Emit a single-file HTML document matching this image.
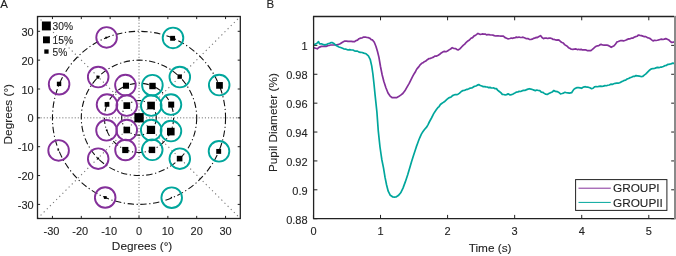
<!DOCTYPE html><html><head><meta charset="utf-8"><style>html,body{margin:0;padding:0;background:#fff;}svg{display:block;font-family:"Liberation Sans",sans-serif;will-change:transform;}text{stroke:#222;stroke-width:0.1px;}</style></head><body>
<svg width="676" height="256" viewBox="0 0 676 256">
<rect width="676" height="256" fill="#fff"/>
<defs><clipPath id="ca"><rect x="37.50" y="16.50" width="202.80" height="202.00"/></clipPath>
<clipPath id="cb"><rect x="313.60" y="16.50" width="361.40" height="202.20"/></clipPath></defs>
<g clip-path="url(#ca)">
<line x1="139.00" y1="16.50" x2="139.00" y2="218.50" stroke="#707070" stroke-width="1" stroke-dasharray="1.1 2.0" fill="none"/>
<line x1="37.50" y1="117.85" x2="240.30" y2="117.85" stroke="#707070" stroke-width="1" stroke-dasharray="1.1 2.0" fill="none"/>
<line x1="37.50" y1="218.50" x2="240.30" y2="16.50" stroke="#777" stroke-width="1.1" stroke-dasharray="1.2 3.2" fill="none"/>
<line x1="37.50" y1="16.50" x2="240.30" y2="218.50" stroke="#777" stroke-width="1.1" stroke-dasharray="1.2 3.2" fill="none"/>
<circle cx="139.00" cy="117.85" r="17.31" stroke="#111" stroke-width="1.1" stroke-dasharray="6.4 2.6 1.2 2.6" fill="none"/>
<circle cx="139.00" cy="117.85" r="34.62" stroke="#111" stroke-width="1.1" stroke-dasharray="6.4 2.6 1.2 2.6" fill="none"/>
<circle cx="139.00" cy="117.85" r="57.70" stroke="#111" stroke-width="1.1" stroke-dasharray="6.4 2.6 1.2 2.6" fill="none"/>
<circle cx="139.00" cy="117.85" r="86.55" stroke="#111" stroke-width="1.1" stroke-dasharray="6.4 2.6 1.2 2.6" fill="none"/>
<circle cx="106.60" cy="37.40" r="10.30" stroke="#84309A" stroke-width="1.9" fill="none"/>
<circle cx="59.10" cy="84.20" r="10.30" stroke="#84309A" stroke-width="1.9" fill="none"/>
<circle cx="98.20" cy="77.05" r="10.30" stroke="#84309A" stroke-width="1.9" fill="none"/>
<circle cx="125.40" cy="85.10" r="10.30" stroke="#84309A" stroke-width="1.9" fill="none"/>
<circle cx="107.02" cy="104.60" r="10.30" stroke="#84309A" stroke-width="1.9" fill="none"/>
<circle cx="126.76" cy="105.61" r="10.30" stroke="#84309A" stroke-width="1.9" fill="none"/>
<circle cx="126.76" cy="130.09" r="10.30" stroke="#84309A" stroke-width="1.9" fill="none"/>
<circle cx="106.50" cy="130.30" r="10.30" stroke="#84309A" stroke-width="1.9" fill="none"/>
<circle cx="125.50" cy="150.00" r="10.30" stroke="#84309A" stroke-width="1.9" fill="none"/>
<circle cx="98.20" cy="158.65" r="10.30" stroke="#84309A" stroke-width="1.9" fill="none"/>
<circle cx="58.60" cy="150.40" r="10.30" stroke="#84309A" stroke-width="1.9" fill="none"/>
<circle cx="105.20" cy="197.50" r="10.30" stroke="#84309A" stroke-width="1.9" fill="none"/>
<circle cx="173.00" cy="37.90" r="10.30" stroke="#00A69C" stroke-width="1.9" fill="none"/>
<circle cx="219.20" cy="85.10" r="10.30" stroke="#00A69C" stroke-width="1.9" fill="none"/>
<circle cx="179.80" cy="77.05" r="10.30" stroke="#00A69C" stroke-width="1.9" fill="none"/>
<circle cx="152.40" cy="85.20" r="10.30" stroke="#00A69C" stroke-width="1.9" fill="none"/>
<circle cx="170.98" cy="104.60" r="10.30" stroke="#00A69C" stroke-width="1.9" fill="none"/>
<circle cx="151.24" cy="105.61" r="10.30" stroke="#00A69C" stroke-width="1.9" fill="none"/>
<circle cx="151.24" cy="130.09" r="10.30" stroke="#00A69C" stroke-width="1.9" fill="none"/>
<circle cx="170.98" cy="131.10" r="10.30" stroke="#00A69C" stroke-width="1.9" fill="none"/>
<circle cx="152.25" cy="149.83" r="10.30" stroke="#00A69C" stroke-width="1.9" fill="none"/>
<circle cx="179.80" cy="158.65" r="10.30" stroke="#00A69C" stroke-width="1.9" fill="none"/>
<circle cx="219.00" cy="151.30" r="10.30" stroke="#00A69C" stroke-width="1.9" fill="none"/>
<circle cx="171.70" cy="197.70" r="10.30" stroke="#00A69C" stroke-width="1.9" fill="none"/>
<rect x="105.30" y="36.70" width="1.80" height="1.80" fill="#000"/>
<rect x="56.85" y="81.70" width="4.40" height="4.40" fill="#000"/>
<rect x="96.40" y="75.70" width="3.00" height="3.00" fill="#000"/>
<rect x="122.95" y="82.65" width="6.10" height="6.10" fill="#000"/>
<rect x="104.65" y="102.05" width="4.70" height="4.70" fill="#000"/>
<rect x="123.45" y="102.25" width="6.70" height="6.70" fill="#000"/>
<rect x="123.50" y="126.70" width="6.60" height="6.60" fill="#000"/>
<rect x="105.90" y="129.40" width="1.60" height="1.60" fill="#000"/>
<rect x="122.20" y="146.90" width="6.20" height="6.20" fill="#000"/>
<rect x="97.10" y="157.50" width="2.00" height="2.00" fill="#000"/>
<rect x="57.50" y="149.10" width="1.60" height="1.60" fill="#000"/>
<rect x="103.90" y="196.10" width="2.80" height="2.80" fill="#000"/>
<rect x="170.15" y="35.85" width="4.90" height="4.90" fill="#000"/>
<rect x="216.15" y="82.05" width="6.70" height="6.70" fill="#000"/>
<rect x="177.50" y="74.40" width="4.40" height="4.40" fill="#000"/>
<rect x="149.30" y="82.80" width="6.40" height="6.40" fill="#000"/>
<rect x="168.20" y="101.60" width="6.00" height="6.00" fill="#000"/>
<rect x="147.30" y="101.70" width="7.60" height="7.60" fill="#000"/>
<rect x="146.90" y="125.80" width="8.20" height="8.20" fill="#000"/>
<rect x="167.00" y="127.80" width="7.60" height="7.60" fill="#000"/>
<rect x="148.80" y="146.70" width="6.40" height="6.40" fill="#000"/>
<rect x="176.80" y="155.80" width="5.60" height="5.60" fill="#000"/>
<rect x="216.25" y="148.95" width="4.90" height="4.90" fill="#000"/>
<rect x="170.75" y="196.85" width="1.30" height="1.30" fill="#000"/>
<rect x="134.4" y="113.1" width="9.3" height="9.3" fill="#000"/>
</g>
<rect x="41.9" y="21.5" width="8.9" height="8.9" fill="#000"/>
<rect x="43.0" y="36.4" width="6.9" height="6.9" fill="#000"/>
<rect x="44.3" y="49.4" width="4.3" height="4.3" fill="#000"/>
<g fill="#222222" font-size="10.2">
<text x="52.6" y="29.8">30%</text>
<text x="52.6" y="44.1">15%</text>
<text x="52.6" y="56.1">5%</text>
</g>
<rect x="37.50" y="16.50" width="202.80" height="202.00" fill="none" stroke="#222222" stroke-width="1.3"/>
<path d="M52.45 218.50v-2.60M52.45 16.50v2.60M37.50 204.40h2.60M240.30 204.40h-2.60M81.30 218.50v-2.60M81.30 16.50v2.60M37.50 175.55h2.60M240.30 175.55h-2.60M110.15 218.50v-2.60M110.15 16.50v2.60M37.50 146.70h2.60M240.30 146.70h-2.60M139.00 218.50v-2.60M139.00 16.50v2.60M37.50 117.85h2.60M240.30 117.85h-2.60M167.85 218.50v-2.60M167.85 16.50v2.60M37.50 89.00h2.60M240.30 89.00h-2.60M196.70 218.50v-2.60M196.70 16.50v2.60M37.50 60.15h2.60M240.30 60.15h-2.60M225.55 218.50v-2.60M225.55 16.50v2.60M37.50 31.30h2.60M240.30 31.30h-2.60" stroke="#222222" stroke-width="1" fill="none"/>
<g fill="#222222" font-size="11">
<text x="51.45" y="234.8" text-anchor="middle">-30</text>
<text x="80.30" y="234.8" text-anchor="middle">-20</text>
<text x="109.15" y="234.8" text-anchor="middle">-10</text>
<text x="139.00" y="234.8" text-anchor="middle">0</text>
<text x="167.85" y="234.8" text-anchor="middle">10</text>
<text x="196.70" y="234.8" text-anchor="middle">20</text>
<text x="225.55" y="234.8" text-anchor="middle">30</text>
<text x="33.7" y="209.00" text-anchor="end">-30</text>
<text x="33.7" y="180.15" text-anchor="end">-20</text>
<text x="33.7" y="151.30" text-anchor="end">-10</text>
<text x="33.7" y="122.45" text-anchor="end">0</text>
<text x="33.7" y="93.60" text-anchor="end">10</text>
<text x="33.7" y="64.75" text-anchor="end">20</text>
<text x="33.7" y="35.90" text-anchor="end">30</text>
</g>
<text x="142.1" y="249.6" font-size="11.8" fill="#222222" text-anchor="middle">Degrees (&#176;)</text>
<text transform="translate(11.7,114.2) rotate(-90)" font-size="11.8" fill="#222222" text-anchor="middle">Degrees (&#176;)</text>
<text x="0.2" y="7.9" font-size="11.5" fill="#222222">A</text>
<path d="M313.45 218.70v-3.80M313.45 16.50v3.80M380.52 218.70v-3.80M380.52 16.50v3.80M447.59 218.70v-3.80M447.59 16.50v3.80M514.66 218.70v-3.80M514.66 16.50v3.80M581.73 218.70v-3.80M581.73 16.50v3.80M648.80 218.70v-3.80M648.80 16.50v3.80M313.60 218.70h3.80M675.00 218.70h-3.80M313.60 189.81h3.80M675.00 189.81h-3.80M313.60 160.93h3.80M675.00 160.93h-3.80M313.60 132.04h3.80M675.00 132.04h-3.80M313.60 103.16h3.80M675.00 103.16h-3.80M313.60 74.27h3.80M675.00 74.27h-3.80M313.60 45.39h3.80M675.00 45.39h-3.80M313.60 16.50h3.80M675.00 16.50h-3.80" stroke="#222222" stroke-width="1" fill="none"/>
<g clip-path="url(#cb)" fill="none" stroke-width="1.7" stroke-linejoin="round" stroke-linecap="round">
<path d="M313.40 47.60 L315.50 48.20 L317.30 48.80 L319.00 47.40 L321.40 46.40 L323.70 46.40 L324.90 46.16 L326.10 46.40 L328.40 45.50 L329.60 45.29 L330.80 45.00 L333.10 45.00 L335.50 45.00 L337.80 44.70 L340.20 43.80 L342.50 42.30 L344.80 41.10 L346.45 41.08 L348.10 41.30 L349.70 41.39 L351.30 41.30 L352.85 41.61 L354.40 41.70 L355.95 40.56 L357.50 40.20 L359.05 38.71 L360.60 38.10 L362.20 37.85 L363.80 37.00 L365.35 37.03 L366.90 37.50 L368.45 37.71 L370.00 38.40 L371.25 39.60 L372.50 39.90 L374.30 42.30 L376.00 46.50 L377.50 51.50 L378.90 57.10 L380.50 66.50 L382.20 75.00 L383.80 81.30 L385.90 87.70 L388.00 93.00 L390.10 96.10 L392.30 97.70 L394.40 97.50 L396.50 97.70 L398.60 96.60 L400.70 95.10 L402.80 93.50 L404.90 90.80 L407.00 87.10 L409.20 83.40 L411.30 79.20 L412.80 76.20 L414.03 73.94 L415.27 72.04 L416.50 69.50 L417.80 67.85 L419.10 66.36 L420.40 64.60 L421.70 63.32 L423.00 62.79 L424.30 61.70 L425.80 61.03 L427.30 59.72 L428.80 58.70 L430.37 58.38 L431.93 57.79 L433.50 57.10 L435.07 56.07 L436.63 56.07 L438.20 55.20 L439.73 54.25 L441.27 52.95 L442.80 52.10 L444.37 51.31 L445.93 51.70 L447.50 51.00 L449.07 49.88 L450.63 49.00 L452.20 47.70 L453.95 48.49 L455.70 48.60 L456.90 49.49 L458.10 50.00 L459.85 48.88 L461.60 47.00 L463.17 45.34 L464.73 44.14 L466.30 42.30 L467.87 40.92 L469.43 40.03 L471.00 38.30 L472.57 37.61 L474.13 35.87 L475.70 35.20 L478.00 33.40 L480.40 34.50 L482.15 33.97 L483.90 34.10 L485.20 34.01 L486.50 34.85 L487.80 34.60 L489.10 34.68 L490.40 34.98 L491.70 35.00 L493.00 35.15 L494.30 35.67 L495.60 36.00 L496.90 35.90 L498.20 35.87 L499.50 36.00 L500.80 36.14 L502.10 36.21 L503.40 36.20 L504.70 37.36 L506.00 37.96 L507.30 38.60 L508.63 38.79 L509.97 38.52 L511.30 38.00 L512.60 38.31 L513.90 37.89 L515.20 37.60 L516.47 37.10 L517.73 37.52 L519.00 37.00 L520.33 37.48 L521.67 37.50 L523.00 37.20 L524.30 37.73 L525.60 38.33 L526.90 38.60 L528.20 38.64 L529.50 39.50 L530.80 39.50 L532.10 39.13 L533.40 38.44 L534.70 38.20 L536.00 37.34 L537.30 37.59 L538.60 36.80 L540.50 35.60 L542.00 37.54 L543.50 38.60 L544.95 38.03 L546.40 38.20 L547.70 38.47 L549.00 38.12 L550.30 38.20 L551.75 38.54 L553.20 39.50 L554.43 39.41 L555.65 39.94 L556.88 40.14 L558.10 39.90 L559.40 40.36 L560.70 41.74 L562.00 42.50 L563.30 43.06 L564.60 44.63 L565.90 45.40 L567.20 46.21 L568.50 47.68 L569.80 48.30 L571.30 49.23 L572.80 49.30 L574.40 49.10 L576.00 48.90 L577.30 49.62 L578.60 49.26 L579.90 49.70 L581.20 49.39 L582.50 49.92 L583.80 49.90 L585.10 49.74 L586.40 50.16 L587.70 50.70 L589.15 50.62 L590.60 50.70 L592.10 49.60 L593.60 48.30 L594.90 47.16 L596.20 46.22 L597.50 45.80 L598.80 45.66 L600.10 44.70 L601.40 44.40 L602.70 45.01 L604.00 45.16 L605.30 45.00 L606.75 45.09 L608.20 45.40 L609.70 46.31 L611.20 47.30 L612.65 46.57 L614.10 45.80 L615.55 43.98 L617.00 41.90 L618.30 41.52 L619.60 41.02 L620.90 40.50 L622.20 40.61 L623.50 40.90 L624.80 40.50 L626.10 39.97 L627.40 39.37 L628.70 38.90 L630.00 38.86 L631.30 38.20 L632.60 38.20 L634.10 37.22 L635.60 36.60 L637.05 36.23 L638.50 35.00 L639.95 35.32 L641.40 35.60 L642.90 36.14 L644.40 36.60 L645.85 36.66 L647.30 37.60 L648.75 38.02 L650.20 38.60 L651.65 39.82 L653.10 40.90 L654.60 40.27 L656.10 40.50 L657.40 40.27 L658.70 39.95 L660.00 39.50 L661.45 39.10 L662.90 39.50 L664.35 39.16 L665.80 38.60 L667.30 39.22 L668.80 39.90 L670.25 41.36 L671.70 42.50 L673.35 42.17 L675.00 42.10" stroke="#84309A"/>
<path d="M313.40 45.00 L314.90 44.30 L316.70 43.50 L318.50 41.70 L319.60 43.80 L321.40 43.80 L323.70 44.70 L324.90 44.89 L326.10 44.70 L328.40 43.50 L329.60 43.31 L330.80 42.70 L332.50 42.70 L334.30 43.80 L336.60 45.80 L339.00 47.00 L341.30 47.80 L343.70 48.80 L346.00 49.20 L348.10 50.00 L349.70 49.57 L351.30 50.00 L352.85 50.00 L354.40 50.80 L355.95 51.11 L357.50 51.10 L359.05 52.12 L360.60 52.30 L362.20 52.48 L363.80 53.10 L366.10 53.80 L368.40 55.80 L370.30 59.70 L371.70 65.90 L372.90 74.00 L374.00 84.00 L375.10 95.20 L376.90 112.00 L378.30 131.10 L380.00 147.00 L381.00 154.00 L381.90 160.00 L383.50 167.80 L385.00 177.20 L386.60 185.00 L388.20 191.20 L390.20 195.20 L391.50 196.06 L392.80 197.00 L394.40 197.08 L396.00 197.00 L398.30 195.60 L400.70 192.80 L403.00 188.10 L405.30 181.90 L407.70 174.80 L410.00 167.00 L411.60 161.60 L413.50 155.50 L414.90 151.20 L416.30 146.90 L417.65 143.20 L419.00 139.50 L420.25 136.70 L421.50 133.90 L423.00 131.58 L424.50 129.50 L426.80 126.90 L428.05 124.54 L429.30 122.00 L431.50 118.00 L433.70 113.60 L435.07 111.45 L436.43 109.56 L437.80 107.70 L439.10 106.55 L440.40 104.47 L441.70 103.50 L443.00 102.60 L444.30 101.78 L445.60 100.60 L446.90 99.43 L448.20 98.35 L449.50 97.60 L451.00 97.01 L452.50 95.63 L454.00 95.00 L455.27 94.52 L456.53 94.54 L457.80 94.40 L459.55 93.13 L461.30 91.50 L462.60 90.67 L463.90 90.41 L465.20 90.10 L466.50 89.45 L467.80 89.40 L469.10 88.60 L470.40 88.08 L471.70 87.99 L473.00 87.20 L474.45 86.30 L475.90 86.00 L477.35 85.15 L478.80 84.60 L480.30 85.44 L481.80 86.00 L483.25 86.65 L484.70 86.60 L486.00 86.89 L487.30 87.02 L488.60 87.60 L489.90 87.39 L491.20 87.89 L492.50 88.00 L493.80 87.92 L495.10 88.68 L496.40 88.60 L497.85 90.35 L499.30 91.50 L500.80 92.67 L502.30 94.40 L503.75 94.50 L505.20 95.00 L506.65 94.68 L508.10 93.80 L510.10 95.00 L511.40 94.59 L512.70 94.21 L514.00 93.40 L515.30 92.76 L516.60 92.07 L517.90 91.90 L519.20 91.38 L520.50 91.50 L521.80 90.90 L523.55 90.39 L525.30 90.30 L526.67 89.63 L528.03 89.16 L529.40 88.70 L530.90 89.09 L532.40 89.55 L533.90 90.10 L535.37 90.61 L536.83 90.06 L538.30 90.50 L539.80 90.65 L541.30 92.10 L542.80 92.30 L544.27 93.38 L545.73 94.20 L547.20 94.50 L548.85 93.54 L550.50 92.70 L552.15 92.01 L553.80 90.50 L555.50 91.43 L557.20 91.60 L558.85 92.45 L560.50 93.80 L562.00 93.52 L563.50 93.10 L565.00 92.30 L566.47 92.75 L567.93 92.92 L569.40 93.20 L571.60 92.70 L573.80 89.40 L575.45 88.31 L577.10 87.60 L578.60 87.69 L580.10 87.82 L581.60 88.30 L583.25 87.11 L584.90 86.70 L586.55 87.03 L588.20 87.20 L589.90 87.76 L591.60 88.70 L593.07 88.25 L594.53 86.82 L596.00 86.50 L597.47 86.73 L598.93 86.41 L600.40 86.10 L601.90 86.31 L603.40 86.12 L604.90 85.60 L606.37 85.76 L607.83 85.27 L609.30 85.00 L610.80 84.16 L612.30 84.42 L613.80 83.80 L615.27 83.30 L616.73 83.22 L618.20 83.20 L619.67 82.68 L621.13 81.89 L622.60 81.20 L624.10 80.39 L625.60 80.13 L627.10 79.00 L628.57 78.50 L630.03 77.66 L631.50 77.20 L632.97 76.44 L634.43 76.46 L635.90 75.60 L637.60 75.83 L639.30 76.10 L640.95 76.55 L642.60 76.50 L644.25 75.07 L645.90 73.90 L648.10 71.60 L649.80 69.93 L651.50 68.80 L652.97 68.53 L654.43 68.49 L655.90 67.90 L657.37 67.37 L658.83 67.70 L660.30 67.20 L661.80 67.08 L663.30 66.48 L664.80 65.70 L666.27 65.52 L667.73 64.32 L669.20 64.30 L670.85 63.87 L672.50 63.20 L673.75 63.33 L675.00 62.80" stroke="#00A69C"/>
</g>
<path d="M312.95 16.50H674.00M313.60 16.50V218.70H674.00" fill="none" stroke="#222222" stroke-width="1.3"/>
<rect x="674" y="15.85" width="2" height="203.50" fill="#8a8a8a"/>
<g fill="#222222" font-size="11">
<text x="313.45" y="234.9" text-anchor="middle">0</text>
<text x="380.52" y="234.9" text-anchor="middle">1</text>
<text x="447.59" y="234.9" text-anchor="middle">2</text>
<text x="514.66" y="234.9" text-anchor="middle">3</text>
<text x="581.73" y="234.9" text-anchor="middle">4</text>
<text x="648.80" y="234.9" text-anchor="middle">5</text>
<text x="307.6" y="223.70" text-anchor="end">0.88</text>
<text x="307.6" y="194.81" text-anchor="end">0.9</text>
<text x="307.6" y="165.93" text-anchor="end">0.92</text>
<text x="307.6" y="137.04" text-anchor="end">0.94</text>
<text x="307.6" y="108.16" text-anchor="end">0.96</text>
<text x="307.6" y="79.27" text-anchor="end">0.98</text>
<text x="307.6" y="50.39" text-anchor="end">1</text>
</g>
<text x="490.1" y="252.2" font-size="11.8" fill="#222222" text-anchor="middle">Time (s)</text>
<text transform="translate(277.3,122.6) rotate(-90)" font-size="11.8" fill="#222222" text-anchor="middle">Pupil Diameter (%)</text>
<text x="266.5" y="7.9" font-size="11.5" fill="#222222">B</text>
<rect x="575.6" y="179.6" width="91.3" height="30.8" fill="#fff" stroke="#222222" stroke-width="1"/>
<line x1="578.5" y1="188.2" x2="610.8" y2="188.2" stroke="#84309A" stroke-width="1"/>
<line x1="578.5" y1="202.4" x2="610.8" y2="202.4" stroke="#00A69C" stroke-width="1"/>
<g fill="#222222" font-size="11.8">
<text x="613.0" y="192.4">GROUPI</text>
<text x="613.0" y="206.6">GROUPII</text>
</g>
</svg></body></html>
